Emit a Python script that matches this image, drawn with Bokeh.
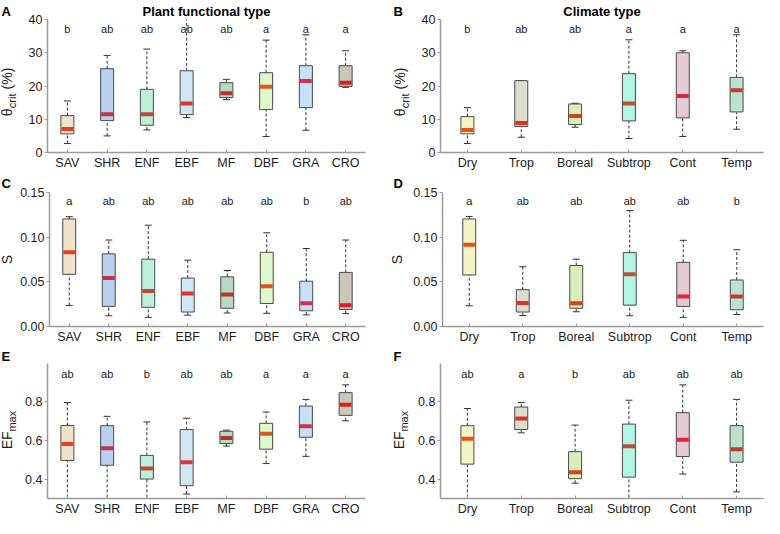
from math import pi
from bokeh.plotting import figure
from bokeh.models import Range1d, FixedTicker, NumeralTickFormatter, Title
from bokeh.layouts import column, row
from bokeh.core.properties import value
from bokeh.embed import file_html
from bokeh.resources import INLINE

FONT = "Liberation Sans"

# ---------------- data ----------------
pft = ["SAV", "SHR", "ENF", "EBF", "MF", "DBF", "GRA", "CRO"]
clim = ["Dry", "Trop", "Boreal", "Subtrop", "Cont", "Temp"]

pft_fill = ["#efe3cc", "#b9d1ee", "#bdf0da", "#d0e7f2", "#b9d8c4", "#ddf9ca", "#c6e0f8", "#cac7b9"]
pft_med = ["#ea3f1f", "#c93045", "#c2452c", "#d83434", "#b83324", "#e0561a", "#d3304f", "#d81f1f"]
clim_fill = ["#f3f5c6", "#dcdccf", "#d9efb9", "#b2f5e3", "#e5c9d3", "#b9e3d0"]
clim_med = ["#ef4d12", "#e2301f", "#d5421a", "#b9503c", "#e62140", "#c73a2a"]

# A: theta_crit by PFT
a_lo = [2.7, 5.0, 6.8, 10.5, 15.9, 4.8, 6.7, 19.6]
a_q1 = [5.6, 9.6, 8.2, 11.4, 16.5, 12.9, 13.5, 19.9]
a_med = [7.1, 11.5, 11.5, 14.7, 17.8, 19.8, 21.5, 21.0]
a_q3 = [11.1, 25.2, 19.0, 24.6, 21.0, 24.0, 26.1, 26.1]
a_hi = [15.5, 29.2, 31.1, 42.0, 22.0, 33.8, 35.4, 30.6]
a_let = ["b", "ab", "ab", "ab", "ab", "a", "a", "a"]

# B: theta_crit by climate
b_lo = [2.7, 4.6, 7.6, 4.2, 4.8, 7.0]
b_q1 = [5.6, 7.8, 8.4, 9.5, 10.4, 12.2]
b_med = [6.8, 8.9, 11.0, 14.7, 17.0, 18.7]
b_q3 = [10.8, 21.6, 14.6, 23.7, 30.0, 22.6]
b_hi = [13.5, 21.6, 14.8, 33.9, 30.6, 35.4]
b_let = ["b", "ab", "ab", "a", "a", "a"]

# C: S by PFT
c_lo = [0.0236, 0.0120, 0.0102, 0.0127, 0.0151, 0.0148, 0.0130, 0.0144]
c_q1 = [0.0584, 0.0225, 0.0215, 0.0162, 0.0204, 0.0257, 0.0176, 0.0190]
c_med = [0.0831, 0.0542, 0.0398, 0.0370, 0.0359, 0.0451, 0.0261, 0.0239]
c_q3 = [0.1204, 0.0813, 0.0754, 0.0542, 0.0556, 0.0831, 0.0507, 0.0606]
c_hi = [0.1229, 0.0968, 0.1134, 0.0743, 0.0627, 0.1049, 0.0873, 0.0968]
c_let = ["a", "ab", "ab", "ab", "ab", "ab", "b", "ab"]

# D: S by climate
d_lo = [0.0232, 0.0123, 0.0165, 0.0120, 0.0102, 0.0134]
d_q1 = [0.0577, 0.0162, 0.0204, 0.0239, 0.0225, 0.0187]
d_med = [0.0915, 0.0264, 0.0261, 0.0584, 0.0335, 0.0335]
d_q3 = [0.1204, 0.0412, 0.0683, 0.0827, 0.0718, 0.0521]
d_hi = [0.1232, 0.0669, 0.0754, 0.1299, 0.0965, 0.0859]
d_let = ["a", "ab", "ab", "ab", "ab", "b"]

# E: EF_max by PFT
e_lo = [0.28, 0.28, 0.28, 0.323, 0.570, 0.480, 0.517, 0.700]
e_q1 = [0.496, 0.471, 0.400, 0.366, 0.583, 0.554, 0.615, 0.728]
e_med = [0.580, 0.559, 0.455, 0.487, 0.612, 0.633, 0.672, 0.782]
e_q3 = [0.676, 0.675, 0.522, 0.655, 0.646, 0.687, 0.776, 0.845]
e_hi = [0.794, 0.723, 0.694, 0.713, 0.652, 0.745, 0.810, 0.885]
e_let = ["ab", "ab", "b", "ab", "ab", "a", "a", "a"]

# F: EF_max by climate
f_lo = [0.28, 0.638, 0.379, 0.28, 0.426, 0.334]
f_q1 = [0.477, 0.655, 0.402, 0.410, 0.516, 0.487]
f_med = [0.608, 0.712, 0.435, 0.569, 0.602, 0.553]
f_q3 = [0.675, 0.771, 0.541, 0.683, 0.742, 0.675]
f_hi = [0.763, 0.794, 0.678, 0.806, 0.885, 0.810]
f_let = ["ab", "a", "b", "ab", "ab", "ab"]

theta_ticks = [0, 10, 20, 30, 40]
s_ticks = [0.0, 0.05, 0.10, 0.15]
ef_ticks = [0.4, 0.6, 0.8]

AXC = "#9a9a9a"
TXT = "#1c1c1c"

# ---------------- layout (pixels) ----------------
LEFT = dict(sw=17, bl=30, fw=318, br=12)
RIGHT = dict(sw=33, bl=30, fw=323, br=1)
ROWS = [dict(bt=16, fh=136, bb=20, lstand=2),
        dict(bt=18, fh=136, bb=20, lstand=3),
        dict(bt=15, fh=137, bb=20, lstand=0)]


def strip(col, rw, letter, letter_x, pieces):
    """Narrow text-only canvas left of a panel: panel letter (title) + rotated y label.
    Its frame is aligned by the row with the panel's frame; y units = pixels from frame bottom."""
    sw = col["sw"]
    H = rw["bt"] + rw["fh"] + rw["bb"]
    t = Title(text=letter, align="left", offset=letter_x, standoff=rw["lstand"],
              text_font=FONT, text_font_size="13px", text_font_style="bold", text_color="black")
    s = figure(width=sw, height=H, x_range=Range1d(0, sw), y_range=Range1d(0, rw["fh"]),
               output_backend="svg", toolbar_location=None, title=t,
               x_axis_location=None, y_axis_location=None,
               min_border_left=0, min_border_right=0, min_border_top=rw["bt"],
               min_border_bottom=rw["bb"])
    s.outline_line_color = None
    s.grid.visible = False
    s.border_fill_color = "white"
    s.background_fill_color = "white"
    for (txt, x, y, size, align) in pieces:
        s.text(x=[x], y=[y], text=[txt], angle=pi / 2, text_align=align,
               text_baseline="middle", text_font=value(FONT), text_font_size=size,
               text_color=TXT)
    return s


def panel(col, rw, cats, lo, q1, med, q3, hi, lets, fills, meds, yr, ticks, fmt, let_y, title):
    bl, fw, br = col["bl"], col["fw"], col["br"]
    bt, fh, bb = rw["bt"], rw["fh"], rw["bb"]
    n = len(cats)
    xs = list(range(1, n + 1))
    boxw = 13.0 / (fw / n)
    p = figure(width=bl + fw + br, height=bt + fh + bb, x_range=Range1d(0.5, n + 0.5),
               y_range=Range1d(*yr), output_backend="svg", toolbar_location=None,
               min_border_left=bl, min_border_right=br, min_border_top=bt, min_border_bottom=bb)
    if title:
        p.title = Title(text=title, align="center", text_font=FONT, text_font_size="13px",
                        text_font_style="bold", text_color="black", standoff=2)
    else:
        p.title = None
    p.outline_line_color = None
    p.grid.visible = False
    p.background_fill_color = "white"
    p.border_fill_color = "white"

    p.xaxis.ticker = FixedTicker(ticks=xs)
    p.xaxis.major_label_overrides = {x: c for x, c in zip(xs, cats)}
    p.yaxis.ticker = FixedTicker(ticks=ticks)
    p.yaxis.formatter = NumeralTickFormatter(format=fmt)
    for ax in (p.xaxis[0], p.yaxis[0]):
        ax.axis_line_color = AXC
        ax.axis_line_width = 1.5
        ax.major_tick_line_color = AXC
        ax.major_tick_line_width = 1
        ax.minor_tick_line_color = None
        ax.major_label_text_font = FONT
        ax.major_label_text_font_size = "12.5px"
        ax.major_label_text_color = TXT
    p.xaxis.major_tick_in = 3
    p.xaxis.major_tick_out = 0
    p.xaxis.major_label_standoff = 3
    p.yaxis.major_tick_in = 0
    p.yaxis.major_tick_out = 3
    p.yaxis.major_label_standoff = 2

    # whiskers
    p.segment(x0=xs, y0=q3, x1=xs, y1=hi, line_color="#333333", line_width=1, line_dash="3 2")
    p.segment(x0=xs, y0=lo, x1=xs, y1=q1, line_color="#333333", line_width=1, line_dash="3 2")
    p.scatter(x=xs, y=hi, marker="dash", size=7, line_color="#333333", line_width=1)
    p.scatter(x=xs, y=lo, marker="dash", size=7, line_color="#333333", line_width=1)
    # boxes
    p.vbar(x=xs, width=boxw, bottom=q1, top=q3, fill_color=fills, line_color="#4a4a4a",
           line_width=1)
    # medians
    p.rect(x=xs, y=med, width=boxw * 0.92, height=4, height_units="screen",
           fill_color=meds, line_color=None)
    # significance letters
    p.text(x=xs, y=[let_y] * n, text=lets, text_align="center", text_baseline="middle",
           text_font=value(FONT), text_font_size="11px", text_color=TXT)
    return p


def theta_pieces(xc, y0):
    # "θ" + subscript "crit" + "(%)", written bottom-to-top from y0 (px above frame bottom)
    return [("θ", xc, y0, "14px", "left"),
            ("crit", xc + 5, y0 + 8.3, "11px", "left"),
            ("(%)", xc, y0 + 8.3 + 14.7 + 4.5, "14px", "left")]


def ef_pieces(xc, y0):
    return [("EF", xc, y0, "14px", "left"),
            ("max", xc + 5, y0 + 17.9, "11px", "left")]


sA = strip(LEFT, ROWS[0], "A", 1, theta_pieces(6, 37))
sB = strip(RIGHT, ROWS[0], "B", 16, theta_pieces(22, 37))
sC = strip(LEFT, ROWS[1], "C", 1, [("S", 6, 68, "14px", "center")])
sD = strip(RIGHT, ROWS[1], "D", 16, [("S", 19, 68, "14px", "center")])
sE = strip(LEFT, ROWS[2], "E", 1, ef_pieces(6, 50))
sF = strip(RIGHT, ROWS[2], "F", 16, ef_pieces(21, 50))

pA = panel(LEFT, ROWS[0], pft, a_lo, a_q1, a_med, a_q3, a_hi, a_let, pft_fill, pft_med,
           (0, 40), theta_ticks, "0", 37, "Plant functional type")
pB = panel(RIGHT, ROWS[0], clim, b_lo, b_q1, b_med, b_q3, b_hi, b_let, clim_fill, clim_med,
           (0, 40), theta_ticks, "0", 37, "Climate type")
pC = panel(LEFT, ROWS[1], pft, c_lo, c_q1, c_med, c_q3, c_hi, c_let, pft_fill, pft_med,
           (0, 0.15), s_ticks, "0.00", 0.14, None)
pD = panel(RIGHT, ROWS[1], clim, d_lo, d_q1, d_med, d_q3, d_hi, d_let, clim_fill, clim_med,
           (0, 0.15), s_ticks, "0.00", 0.14, None)
pE = panel(LEFT, ROWS[2], pft, e_lo, e_q1, e_med, e_q3, e_hi, e_let, pft_fill, pft_med,
           (0.3, 0.995), ef_ticks, "0.0", 0.94, None)
pF = panel(RIGHT, ROWS[2], clim, f_lo, f_q1, f_med, f_q3, f_hi, f_let, clim_fill, clim_med,
           (0.3, 0.995), ef_ticks, "0.0", 0.94, None)

layout = column(row(sA, pA, sB, pB), row(sC, pC, sD, pD), row(sE, pE, sF, pF))
open("out.html", "w").write(file_html(layout, INLINE))
